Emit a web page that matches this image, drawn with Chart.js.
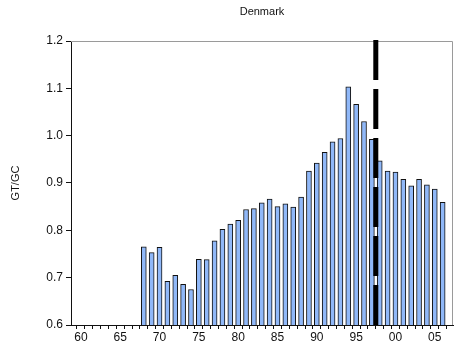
<!DOCTYPE html>
<html>
<head>
<meta charset="utf-8">
<script src="https://cdn.jsdelivr.net/npm/chart.js@4/dist/chart.umd.min.js"></script>
<style>
html,body{margin:0;padding:0;background:#fff;}
#wrap{width:455px;height:358px;}
</style>
</head>
<body>
<div id="wrap"><canvas id="c" width="455" height="358"></canvas></div>
<script>
// ---- data ----
const chartTitle = "Denmark";
const yAxisLabel = "GT/GC";
const years = [1968,1969,1970,1971,1972,1973,1974,1975,1976,1977,1978,1979,1980,1981,1982,1983,1984,1985,1986,1987,1988,1989,1990,1991,1992,1993,1994,1995,1996,1997,1998,1999,2000,2001,2002,2003,2004,2005,2006];
const gtgc = [0.765,0.753,0.764,0.692,0.705,0.686,0.675,0.739,0.738,0.778,0.802,0.813,0.821,0.844,0.846,0.858,0.866,0.850,0.856,0.849,0.870,0.925,0.942,0.965,0.987,0.994,1.103,1.066,1.030,0.992,0.947,0.925,0.923,0.908,0.894,0.908,0.896,0.887,0.859];
const yTicks = [0.6,0.7,0.8,0.9,1.0,1.1,1.2];
const xLabelYears = [1960,1965,1970,1975,1980,1985,1990,1995,2000,2005];
const breakYear = 1997.5;

const FONT = "'Liberation Sans', Arial, sans-serif";

const framePlugin = {
  id: 'frame',
  beforeDatasetsDraw(chart) {
    const {ctx, chartArea: a} = chart;
    ctx.save();
    ctx.strokeStyle = '#9a9a9a';
    ctx.lineWidth = 1;
    ctx.beginPath();
    ctx.moveTo(a.left, Math.round(a.top) + 0.5);
    ctx.lineTo(Math.round(a.right) - 0.5, Math.round(a.top) + 0.5);
    ctx.lineTo(Math.round(a.right) - 0.5, a.bottom);
    ctx.stroke();
    ctx.restore();
  },
  afterDatasetsDraw(chart) {
    const {ctx, chartArea: a, scales} = chart;
    const x = scales.x.getPixelForValue(breakYear);
    ctx.save();
    ctx.strokeStyle = '#000';
    ctx.lineWidth = 5;
    ctx.setLineDash([40, 9]);
    ctx.beginPath();
    ctx.moveTo(x, a.top - 1);
    ctx.lineTo(x, a.bottom);
    ctx.stroke();
    ctx.restore();
  }
};

new Chart(document.getElementById('c'), {
  type: 'bar',
  data: {
    datasets: [{
      data: years.map((y, i) => ({x: y, y: gtgc[i]})),
      backgroundColor: '#90b8f8',
      borderColor: '#111',
      borderWidth: 1,
      barThickness: 5,
      borderSkipped: false
    }]
  },
  options: {
    responsive: false,
    animation: false,
    devicePixelRatio: 1,
    layout: {padding: {left: 0, right: 2, top: 0, bottom: 0}},
    plugins: {
      legend: {display: false},
      tooltip: {enabled: false},
      title: {
        display: true,
        text: chartTitle,
        fullSize: false,
        color: '#111',
        font: {family: FONT, size: 11, weight: 'normal', lineHeight: 1.2},
        padding: {top: 5, bottom: 22.8}
      }
    },
    scales: {
      x: {
        type: 'linear',
        min: 1959.26,
        max: 2006.8,
        afterFit(s) { s.height = 33; },
        border: {display: true, color: '#111', width: 1},
        grid: {drawOnChartArea: false, drawTicks: true, tickLength: 4, color: '#111'},
        afterBuildTicks(s) {
          const t = [];
          for (let y = 1960; y <= 2006; y++) t.push({value: y});
          s.ticks = t;
        },
        ticks: {
          autoSkip: false,
          maxRotation: 0,
          minRotation: 0,
          includeBounds: false,
          padding: 1,
          color: '#111',
          font: {family: FONT, size: 12},
          callback(v) {
            return xLabelYears.includes(v) ? String(v % 100).padStart(2, '0') : '';
          }
        }
      },
      y: {
        min: 0.6,
        max: 1.2,
        afterFit(s) { s.width = 71; },
        afterBuildTicks(s) { s.ticks = yTicks.map(v => ({value: v})); },
        border: {display: true, color: '#111', width: 1},
        grid: {drawOnChartArea: false, drawTicks: true, tickLength: 5, color: '#111'},
        title: {
          display: true,
          text: yAxisLabel,
          color: '#111',
          font: {family: FONT, size: 11},
          padding: {top: 9, bottom: 0}
        },
        ticks: {
          padding: 3,
          color: '#111',
          font: {family: FONT, size: 12},
          callback(v) { return Number(v).toFixed(1); }
        }
      }
    }
  },
  plugins: [framePlugin]
});
</script>
</body>
</html>
